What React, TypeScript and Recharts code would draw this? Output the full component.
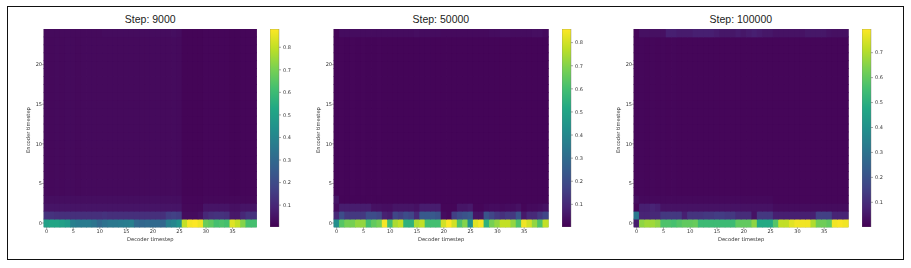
import React from 'react';
import { ScatterChart, Scatter, XAxis, YAxis, ReferenceArea, BarChart, Bar } from 'recharts';

// attention values, one list of 40 per encoder row
const p1Row0 = [.5,.52,.52,.5,.48,.38,.36,.36,.36,.34,.3,.33,.35,.35,.36,.37,.38,.3,.29,.3,.3,.3,.29,.38,.4,.45,.8,.87,.88,.86,.68,.66,.62,.63,.62,.84,.8,.72,.62,.62];
const p1Row1 = [.13,.13,.12,.12,.12,.12,.12,.12,.12,.12,.12,.13,.12,.12,.12,.12,.12,.12,.12,.12,.12,.12,.12,.16,.17,.16,.03,.03,.03,.04,.1,.12,.13,.13,.12,.06,.06,.1,.13,.13];
const p1Row2 = [.05,.05,.05,.05,.05,.05,.05,.05,.05,.05,.05,.05,.05,.05,.05,.05,.05,.05,.05,.05,.05,.05,.05,.05,.05,.05,.02,.02,.02,.02,.05,.05,.05,.05,.05,.04,.04,.05,.05,.05];
const p1Row3 = [.035,.035,.035,.035,.035,.035,.035,.035,.035,.035,.035,.035,.035,.035,.035,.035,.035,.035,.035,.035,.035,.035,.035,.035,.035,.035,.015,.015,.015,.015,.02,.02,.02,.02,.02,.02,.02,.02,.02,.02];
const p1Mid = [.025,.022,.025,.022,.025,.025,.022,.025,.025,.025,.025,.025,.025,.025,.025,.025,.025,.025,.025,.025,.025,.025,.025,.025,.028,.025,.012,.012,.012,.012,.015,.015,.015,.015,.015,.012,.012,.015,.015,.015];
const p1Top = [.025,.025,.025,.025,.025,.025,.025,.025,.025,.025,.025,.03,.03,.03,.03,.03,.03,.03,.03,.03,.03,.03,.03,.03,.035,.03,.012,.012,.012,.012,.015,.015,.015,.015,.015,.012,.012,.015,.015,.015];

const p2Row0 = [.42,.63,.68,.68,.72,.72,.6,.65,.68,.85,.6,.75,.78,.55,.55,.75,.78,.6,.6,.6,.8,.86,.8,.62,.7,.43,.82,.85,.55,.68,.72,.78,.78,.72,.62,.84,.8,.72,.62,.78];
const p2Row1 = [.1,.2,.14,.14,.14,.14,.2,.2,.18,.08,.07,.18,.16,.2,.18,.1,.24,.24,.24,.22,.03,.02,.16,.2,.22,.24,.05,.05,.22,.18,.14,.12,.14,.14,.22,.06,.1,.1,.14,.18];
const p2Row2 = [.03,.07,.07,.07,.07,.07,.07,.04,.04,.035,.035,.05,.05,.05,.05,.04,.07,.07,.07,.07,.015,.015,.015,.05,.05,.06,.015,.015,.025,.03,.03,.025,.03,.03,.04,.015,.025,.025,.03,.04];
const p2Row3 = [.05,.012,.012,.012,.012,.012,.012,.012,.012,.012,.012,.012,.012,.012,.012,.012,.012,.012,.012,.012,.012,.012,.012,.012,.012,.012,.012,.012,.012,.012,.012,.012,.012,.012,.012,.012,.012,.012,.012,.012];
const p2Mid = [.012,.015,.012,.015,.012,.015,.012,.012,.015,.012,.012,.012,.012,.012,.012,.012,.012,.012,.012,.012,.012,.012,.012,.012,.012,.012,.012,.012,.012,.012,.012,.012,.012,.012,.012,.012,.012,.012,.012,.012];
const p2Top = [.012,.03,.03,.03,.03,.03,.03,.03,.03,.03,.03,.03,.03,.03,.03,.035,.03,.03,.03,.03,.025,.025,.025,.025,.025,.025,.025,.025,.025,.03,.03,.035,.035,.03,.03,.03,.03,.035,.035,.025];

const p3Row0 = [.06,.66,.68,.68,.66,.57,.57,.56,.58,.6,.6,.61,.54,.54,.54,.54,.54,.54,.54,.6,.6,.6,.66,.48,.48,.48,.58,.72,.72,.76,.78,.78,.78,.7,.62,.62,.6,.78,.79,.78];
const p3Row1 = [.32,.08,.08,.09,.09,.13,.13,.13,.13,.07,.12,.12,.12,.13,.13,.14,.14,.13,.13,.1,.1,.1,.04,.13,.13,.13,.07,.07,.07,.07,.07,.07,.07,.07,.15,.15,.15,.08,.08,.08];
const p3Row2 = [.012,.07,.07,.08,.07,.04,.04,.04,.04,.04,.04,.04,.04,.04,.04,.04,.04,.04,.04,.04,.04,.04,.04,.04,.04,.04,.025,.025,.025,.025,.025,.025,.025,.025,.025,.025,.025,.025,.025,.025];
const p3Row3 = [.03,.02,.02,.02,.02,.02,.02,.02,.02,.02,.02,.02,.02,.02,.02,.02,.02,.02,.02,.02,.02,.02,.02,.02,.02,.02,.012,.012,.012,.012,.012,.012,.012,.012,.012,.012,.012,.012,.012,.012];
const p3Mid = [.012,.015,.012,.015,.012,.015,.012,.015,.012,.012,.012,.012,.012,.012,.012,.012,.012,.012,.012,.012,.012,.012,.012,.012,.012,.012,.012,.012,.012,.012,.012,.012,.012,.012,.012,.012,.012,.012,.012,.012];
const p3Top = [.012,.035,.035,.035,.035,.035,.07,.07,.06,.06,.06,.07,.07,.07,.07,.06,.05,.05,.05,.06,.05,.06,.07,.06,.05,.05,.04,.04,.04,.04,.04,.04,.05,.05,.05,.05,.04,.035,.035,.035];

const xTicks = [0, 5, 10, 15, 20, 25, 30, 35];
const yTicks = [0, 5, 10, 15, 20];
const ticks1 = [0.1, 0.2, 0.3, 0.4, 0.5, 0.6, 0.7, 0.8];
const ticks3 = [0.1, 0.2, 0.3, 0.4, 0.5, 0.6, 0.7];

const viridis = ['#440154', '#482475', '#414487', '#355f8d', '#2a788e', '#21918c', '#22a884', '#44bf70', '#7ad151', '#bddf26', '#fde725'];

const hex = (c: string) => [1, 3, 5].map((i) => parseInt(c.slice(i, i + 2), 16));

const colorAt = (t: number) => {
  const p = Math.min(Math.max(t, 0), 1) * (viridis.length - 1);
  const i = Math.min(Math.floor(p), viridis.length - 2);
  const a = hex(viridis[i]);
  const b = hex(viridis[i + 1]);
  const m = a.map((v, k) => Math.round(v + (b[k] - v) * (p - i)));
  return `rgb(${m[0]},${m[1]},${m[2]})`;
};

// rows 0..24, bottom to top
const buildRows = (r0: number[], r1: number[], r2: number[], r3: number[], mid: number[], top: number[]) => [
  r0, r1, r2, r3, ...Array(20).fill(mid), top,
];

const panels = [
  { title: 'Step: 9000', left: 44, width: 212.5, rows: buildRows(p1Row0, p1Row1, p1Row2, p1Row3, p1Mid, p1Top), min: 0.003, max: 0.881, ticks: ticks1, barLeft: 270 },
  { title: 'Step: 50000', left: 333.7, width: 214.3, rows: buildRows(p2Row0, p2Row1, p2Row2, p2Row3, p2Mid, p2Top), min: 0.002, max: 0.859, ticks: ticks1, barLeft: 561.7 },
  { title: 'Step: 100000', left: 633.7, width: 214.3, rows: buildRows(p3Row0, p3Row1, p3Row2, p3Row3, p3Mid, p3Top), min: 0.001, max: 0.795, ticks: ticks3, barLeft: 861.7 },
];

const plotTop = 28.7;
const plotHeight = 198;
const axisWidth = 24;
const tickStyle = { fontSize: 5, fill: '#333', fontFamily: 'DejaVu Sans' };
const labelStyle = { fontSize: 5.2, fill: '#333', fontFamily: 'DejaVu Sans' };

const encoderLabel = () => (
  <text x={10} y={101} transform="rotate(-90 10 101)" textAnchor="middle" style={labelStyle}>
    Encoder timestep
  </text>
);

const HeatPanel = ({ panel }: { panel: (typeof panels)[number] }) => {
  const cellW = panel.width / 40;
  const cellH = plotHeight / 25;
  const cells = panel.rows.flatMap((row: number[], y: number) => row.map((value, x) => ({ x, y, value })));
  const cellShape = (p: any) => (
    <rect
      x={p.cx - cellW / 2 - 0.4}
      y={p.cy - cellH / 2 - 0.4}
      width={cellW + 0.8}
      height={cellH + 0.8}
      fill={colorAt((p.payload.value - panel.min) / (panel.max - panel.min))}
    />
  );
  return (
    <div style={{ position: 'absolute', left: panel.left - axisWidth, top: plotTop, filter: 'blur(0.45px)' }}>
      <ScatterChart
        width={panel.width + axisWidth + 1}
        height={plotHeight + 22}
        margin={{ top: 0, right: 1, bottom: 0, left: 0 }}
      >
        <XAxis
          type="number"
          dataKey="x"
          domain={[-0.5, 39.5]}
          ticks={xTicks}
          interval={0}
          height={22}
          tick={tickStyle}
          tickSize={2}
          tickMargin={0}
          tickLine={{ stroke: '#555', strokeWidth: 0.5 }}
          axisLine={false}
          label={{ value: 'Decoder timestep', position: 'insideBottom', offset: 8, style: labelStyle }}
        />
        <YAxis
          type="number"
          dataKey="y"
          domain={[-0.5, 24.5]}
          ticks={yTicks}
          interval={0}
          width={axisWidth}
          tick={tickStyle}
          tickSize={2}
          tickMargin={0}
          tickLine={{ stroke: '#555', strokeWidth: 0.5 }}
          axisLine={false}
          label={encoderLabel}
        />
        <Scatter data={cells} isAnimationActive={false} shape={cellShape} />
        <ReferenceArea x1={-0.5} x2={39.5} y1={-0.5} y2={24.5} fill="none" stroke="#666" strokeWidth={0.5} ifOverflow="visible" />
      </ScatterChart>
    </div>
  );
};

const ColorBar = ({ panel, id }: { panel: (typeof panels)[number]; id: string }) => (
  <div style={{ position: 'absolute', left: panel.barLeft, top: plotTop, filter: 'blur(0.35px)' }}>
    <BarChart
      width={32}
      height={plotHeight}
      data={[{ range: [panel.min, panel.max] }]}
      margin={{ top: 0, right: 0, bottom: 0, left: 0 }}
      barCategoryGap={0}
    >
      <defs>
        <linearGradient id={id} x1="0" y1="1" x2="0" y2="0">
          {viridis.map((c, i) => (
            <stop key={c} offset={i / (viridis.length - 1)} stopColor={c} />
          ))}
        </linearGradient>
      </defs>
      <XAxis hide />
      <YAxis
        orientation="right"
        type="number"
        domain={[panel.min, panel.max]}
        ticks={panel.ticks}
        interval={0}
        width={23}
        allowDataOverflow
        tick={{ ...tickStyle, textAnchor: 'start' }}
        tickFormatter={(v) => `${v}`}
        tickSize={2}
        tickMargin={2}
        tickLine={{ stroke: '#555', strokeWidth: 0.5 }}
        axisLine={false}
      />
      <Bar dataKey="range" fill={`url(#${id})`} isAnimationActive={false} stroke="#777" strokeWidth={0.4} />
    </BarChart>
  </div>
);

export default function App() {
  return (
    <div style={{ position: 'absolute', left: 0, top: 0, width: 911, height: 268, background: '#fff', overflow: 'hidden' }}>
      <div style={{ position: 'absolute', left: 7, top: 6, width: 895, height: 252, border: '1px solid #111' }} />
      {panels.map((panel, i) => (
        <React.Fragment key={panel.title}>
          <div
            style={{
              position: 'absolute',
              left: panel.left + panel.width / 2 - 60,
              width: 120,
              top: 11,
              textAlign: 'center',
              fontFamily: 'Liberation Sans',
              fontSize: 10.5,
              lineHeight: '16px',
              color: '#222',
            }}
          >
            {panel.title}
          </div>
          <HeatPanel panel={panel} />
          <ColorBar panel={panel} id={`viridis${i}`} />
        </React.Fragment>
      ))}
    </div>
  );
}
